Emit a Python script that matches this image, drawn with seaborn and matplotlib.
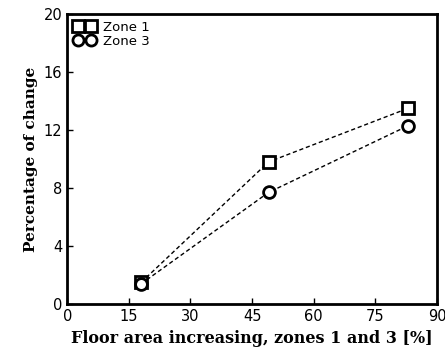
import pandas as pd
import matplotlib
matplotlib.use('Agg')
import matplotlib.pyplot as plt
import seaborn as sns
from matplotlib.lines import Line2D

# 그래프 데이터
floor_area = [18, 49, 83]
zone1 = [1.5, 9.8, 13.5]
zone3 = [1.4, 7.7, 12.3]
x_ticks = [0, 15, 30, 45, 60, 75, 90]
y_ticks = [0, 4, 8, 12, 16, 20]

df = pd.DataFrame({
    'area': floor_area * 2,
    'change': zone1 + zone3,
    'zone': ['Zone 1'] * 3 + ['Zone 3'] * 3,
})

sns.set_style('ticks')
plt.rcParams['font.family'] = ['DejaVu Serif']
plt.rcParams['axes.edgecolor'] = 'black'
plt.rcParams['xtick.color'] = 'black'
plt.rcParams['ytick.color'] = 'black'
plt.rcParams['text.color'] = 'black'
plt.rcParams['axes.labelcolor'] = 'black'

fig = plt.figure(figsize=(4.45, 3.57), dpi=100)
ax = fig.add_axes([0.151, 0.148, 0.831, 0.813])

sns.lineplot(data=df, x='area', y='change', hue='zone', style='zone',
             markers={'Zone 1': 's', 'Zone 3': 'o'},
             dashes={'Zone 1': (3, 2), 'Zone 3': (3, 2)},
             palette={'Zone 1': 'black', 'Zone 3': 'black'},
             markersize=8.5, markerfacecolor='white', markeredgecolor='black',
             markeredgewidth=2, linewidth=1, ax=ax, legend=False)

ax.set_xlim(0, 90)
ax.set_ylim(0, 20)
ax.set_xticks(x_ticks)
ax.set_yticks(y_ticks)
ax.tick_params(direction='in', length=4, width=1, labelsize=10.5)
for lbl in ax.get_xticklabels() + ax.get_yticklabels():
    lbl.set_family('DejaVu Sans')
for s in ax.spines.values():
    s.set_linewidth(2)
    s.set_visible(True)

ax.set_xlabel('Floor area increasing, zones 1 and 3 [%]', fontsize=11.5,
              fontweight='bold', labelpad=4)
ax.set_ylabel('Percentage of change', fontsize=11, fontweight='bold')

# 범례: 마커 두 개씩
h1 = Line2D([], [], color='black', linestyle='-', marker='s', markersize=8,
            markerfacecolor='white', markeredgewidth=2, linewidth=1.5)
h3 = Line2D([], [], color='black', linestyle='-', marker='o', markersize=8,
            markerfacecolor='white', markeredgewidth=2, linewidth=1.5)
ax.legend([h1, h3], ['Zone 1', 'Zone 3'], loc='upper left', frameon=False,
          numpoints=2, handlelength=1.6, borderaxespad=0.1,
          labelspacing=0.1, handletextpad=0.6,
          prop={'family': ['DejaVu Sans'], 'size': 9.5})

fig.savefig('out.png', dpi=100)
